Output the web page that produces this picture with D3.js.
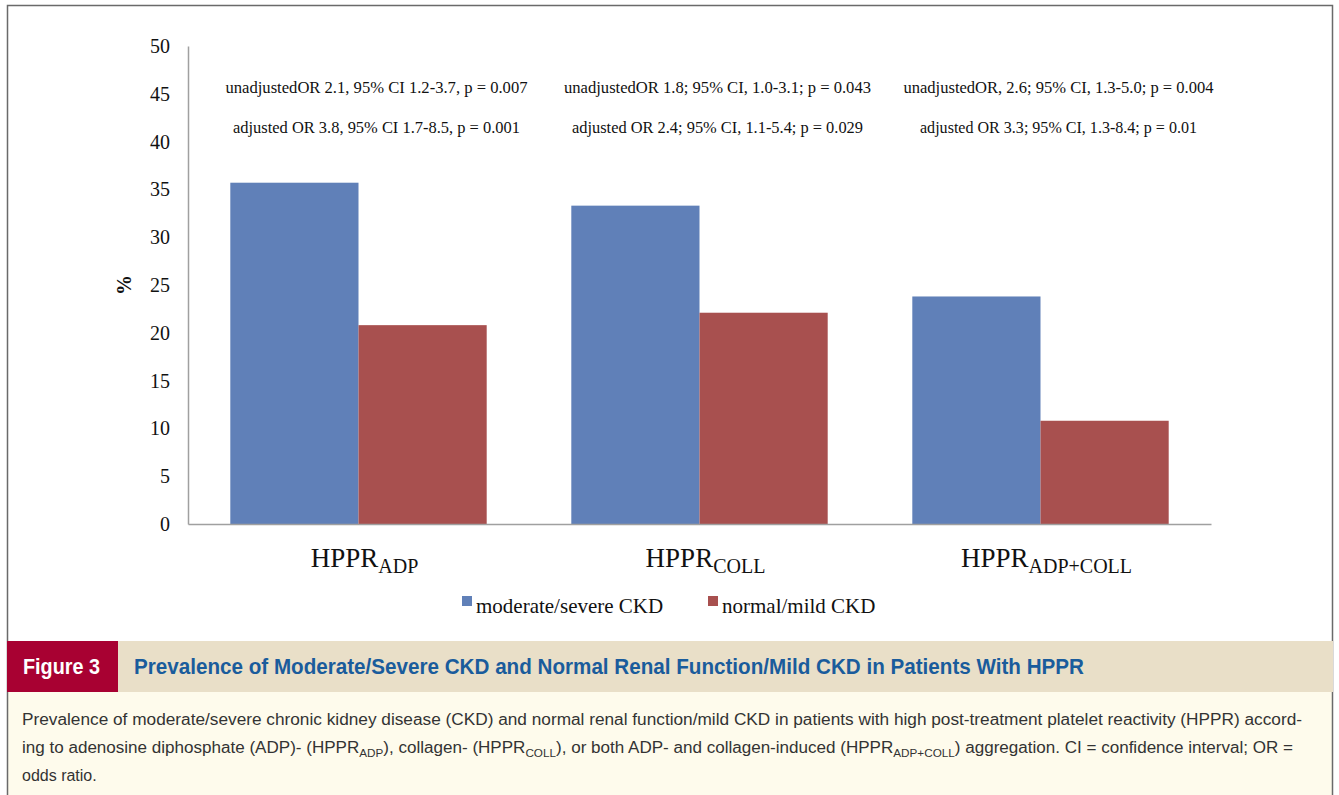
<!DOCTYPE html>
<html>
<head>
<meta charset="utf-8">
<script src="https://cdn.jsdelivr.net/npm/d3@7"></script>
<style>
  html, body { margin: 0; padding: 0; background: #fff; }
  svg { display: block; }
</style>
</head>
<body>
<div id="chart"></div>
<script>
// data
var categories = ["ADP", "COLL", "ADP+COLL"];
var series = ["moderate/severe CKD", "normal/mild CKD"];
var moderateSevere = [35.7, 33.3, 23.8];
var normalMild = [20.8, 22.1, 10.8];
var yTicks = [0, 5, 10, 15, 20, 25, 30, 35, 40, 45, 50];
var unadjusted = [
  "unadjustedOR 2.1, 95% CI 1.2-3.7, p = 0.007",
  "unadjustedOR 1.8; 95% CI, 1.0-3.1; p = 0.043",
  "unadjustedOR, 2.6; 95% CI, 1.3-5.0; p = 0.004"
];
var adjusted = [
  "adjusted OR 3.8, 95% CI 1.7-8.5, p = 0.001",
  "adjusted OR 2.4; 95% CI, 1.1-5.4; p = 0.029",
  "adjusted OR 3.3; 95% CI, 1.3-8.4; p = 0.01"
];
var colors = ["#6080b8", "#a8504f"];

var width = 1339, height = 795;
var serif = "'Liberation Serif', 'Times New Roman', serif";
var sans = "'Liberation Sans', Arial, sans-serif";

var svg = d3.select("#chart").append("svg")
  .attr("width", width)
  .attr("height", height);

// frame
svg.append("rect").attr("x", 0).attr("y", 0).attr("width", width).attr("height", height).attr("fill", "#fff");
svg.append("rect").attr("x", 7).attr("y", 692).attr("width", 1326).attr("height", 103).attr("fill", "#fefbec");
svg.append("path")
  .attr("d", "M7.5,795 V5.5 H1332.5 V795")
  .attr("fill", "none")
  .attr("stroke", "#6a6a6a")
  .attr("stroke-width", 1.5);

var margin = {left: 188, right: 1211, top: 46, bottom: 524};

var x0 = d3.scaleBand()
  .domain(categories)
  .range([margin.left, margin.right])
  .paddingInner(0).paddingOuter(0);

var x1 = d3.scaleBand()
  .domain(series)
  .range([0, x0.bandwidth()])
  .paddingInner(0).paddingOuter(0.33);

var y = d3.scaleLinear()
  .domain([0, 50])
  .range([margin.bottom, margin.top]);

// bars
var rows = categories.map(function(c, i){
  return {cat: c, vals: [moderateSevere[i], normalMild[i]]};
});

var groups = svg.append("g").selectAll("g")
  .data(rows)
  .enter().append("g")
  .attr("transform", function(d){ return "translate(" + x0(d.cat) + ",0)"; });

groups.selectAll("rect")
  .data(function(d){ return d.vals.map(function(v, j){ return {s: series[j], v: v, j: j}; }); })
  .enter().append("rect")
  .attr("x", function(d){ return x1(d.s); })
  .attr("y", function(d){ return y(d.v); })
  .attr("width", x1.bandwidth())
  .attr("height", function(d){ return y(0) - y(d.v); })
  .attr("fill", function(d){ return colors[d.j]; });

// y axis
var yAxis = svg.append("g")
  .attr("transform", "translate(" + margin.left + ",0)")
  .call(d3.axisLeft(y).tickValues(yTicks).tickSize(0).tickPadding(18));
yAxis.select(".domain").attr("stroke", "#a0a0a0").attr("stroke-width", 1.5);
yAxis.selectAll("text")
  .style("font-family", serif)
  .style("font-size", "20px")
  .attr("fill", "#111");

// x axis line
var xAxis = svg.append("g")
  .attr("transform", "translate(0," + margin.bottom + ")")
  .call(d3.axisBottom(x0).tickSize(0).tickFormat(""));
xAxis.select(".domain").attr("stroke", "#a0a0a0").attr("stroke-width", 1.5);

// category labels HPPR with subscripts
categories.forEach(function(c){
  var t = svg.append("text")
    .attr("x", x0(c) + x0.bandwidth() / 2 + 6)
    .attr("y", 567)
    .attr("text-anchor", "middle")
    .style("font-family", serif)
    .style("font-size", "27px")
    .attr("fill", "#111");
  t.append("tspan").text("HPPR");
  t.append("tspan").attr("dy", 6).style("font-size", "20px").text(c);
});

// y label
svg.append("text")
  .attr("transform", "translate(131,285) rotate(-90)")
  .attr("text-anchor", "middle")
  .style("font-family", serif)
  .style("font-size", "20px")
  .style("font-weight", "bold")
  .attr("fill", "#111")
  .text("%");

// OR annotations
var annWidths = [[302, 287], [307, 291], [310, 277]];
categories.forEach(function(c, i){
  var cx = x0(c) + x0.bandwidth() / 2 + 18;
  [unadjusted[i], adjusted[i]].forEach(function(s, k){
    svg.append("text")
      .attr("x", cx)
      .attr("y", k === 0 ? 93 : 133)
      .attr("text-anchor", "middle")
      .attr("textLength", annWidths[i][k])
      .attr("lengthAdjust", "spacingAndGlyphs")
      .style("font-family", serif)
      .style("font-size", "16px")
      .attr("fill", "#111")
      .text(s);
  });
});

// legend
var legendX = [462, 708];
series.forEach(function(s, i){
  svg.append("rect")
    .attr("x", legendX[i]).attr("y", 596)
    .attr("width", 10).attr("height", 10)
    .attr("fill", colors[i]);
  svg.append("text")
    .attr("x", legendX[i] + 14)
    .attr("y", 613)
    .style("font-family", serif)
    .style("font-size", "21px")
    .attr("fill", "#111")
    .text(s);
});

// figure header
svg.append("rect").attr("x", 7).attr("y", 641).attr("width", 111).attr("height", 51).attr("fill", "#a80132");
svg.append("rect").attr("x", 118).attr("y", 641).attr("width", 1215).attr("height", 51).attr("fill", "#e9dfc8");
svg.append("text")
  .attr("x", 23).attr("y", 674)
  .attr("textLength", 77)
  .attr("lengthAdjust", "spacingAndGlyphs")
  .style("font-family", sans)
  .style("font-size", "22px")
  .style("font-weight", "bold")
  .attr("fill", "#fff")
  .text("Figure 3");
svg.append("text")
  .attr("x", 134).attr("y", 674)
  .attr("textLength", 950)
  .attr("lengthAdjust", "spacingAndGlyphs")
  .style("font-family", sans)
  .style("font-size", "22px")
  .style("font-weight", "bold")
  .attr("fill", "#1a5c9c")
  .text("Prevalence of Moderate/Severe CKD and Normal Renal Function/Mild CKD in Patients With HPPR");

// caption
var capStyle = function(t){
  return t.style("font-family", sans).style("font-size", "16px").attr("fill", "#333");
};
capStyle(svg.append("text").attr("x", 22).attr("y", 725)
  .attr("textLength", 1280).attr("lengthAdjust", "spacingAndGlyphs"))
  .text("Prevalence of moderate/severe chronic kidney disease (CKD) and normal renal function/mild CKD in patients with high post-treatment platelet reactivity (HPPR) accord-");

var l2 = capStyle(svg.append("text").attr("x", 22).attr("y", 753)
  .attr("textLength", 1271).attr("lengthAdjust", "spacingAndGlyphs"));
var parts = [
  ["ing to adenosine diphosphate (ADP)- (HPPR", false], ["ADP", true],
  ["), collagen- (HPPR", false], ["COLL", true],
  ["), or both ADP- and collagen-induced (HPPR", false], ["ADP+COLL", true],
  [") aggregation. CI = confidence interval; OR =", false]
];
parts.forEach(function(p){
  var ts = l2.append("tspan").text(p[0]);
  if (p[1]) ts.attr("dy", 4).style("font-size", "11px");
  else ts.attr("dy", ts.node().previousSibling ? -4 : 0);
});

capStyle(svg.append("text").attr("x", 22).attr("y", 781)).text("odds ratio.");
</script>
</body>
</html>
